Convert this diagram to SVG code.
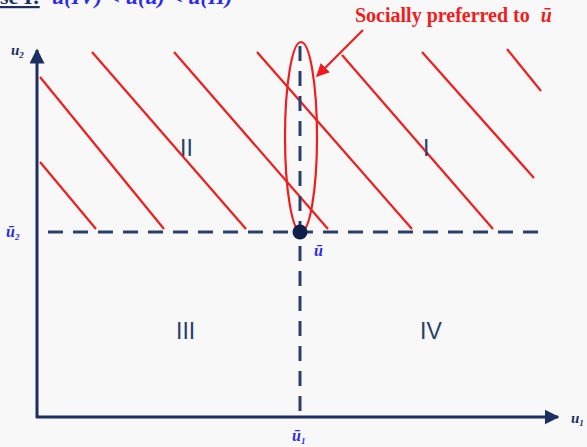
<svg xmlns="http://www.w3.org/2000/svg" width="587" height="447" viewBox="0 0 587 447">
<defs>
<style>
.ax{stroke:#1c2f63;stroke-width:3;fill:none}
.dash{stroke:#2b3f6b;stroke-width:3;fill:none;stroke-dasharray:15 10}
.red{stroke:#f21c1c;stroke-width:2.2;fill:none}
.lab{font-family:"Liberation Sans",Arial,sans-serif;font-size:23px;fill:#2b3f6b}
.ml{font-family:"Liberation Serif","Times New Roman",serif;font-weight:bold;font-style:italic}
</style>
<marker id="ah" viewBox="0 0 10 10" refX="9" refY="5" markerWidth="5" markerHeight="5" orient="auto" markerUnits="strokeWidth"><path d="M0,0 L10,5 L0,10 z" fill="#1c2f63"/></marker>
<marker id="rh" viewBox="0 0 10 10" refX="9" refY="5" markerWidth="6" markerHeight="6" orient="auto" markerUnits="strokeWidth"><path d="M0,0 L10,5 L0,10 z" fill="#f21c1c"/></marker>
</defs>
<rect width="587" height="447" fill="#f8f8f8"/>
<g id="title">
<text x="0" y="4" font-family="Liberation Serif,serif" font-weight="bold" font-size="22" fill="#1c2f63" text-decoration="underline">se I:</text>
<text x="52" y="4" class="ml" font-size="22" fill="#2a2af0">u(IV) &lt; u(ū) &lt; u(II)</text>
</g>
<g id="hatch">
<line class="red" x1="40" y1="162" x2="96" y2="229"/>
<line class="red" x1="40" y1="77" x2="164" y2="229"/>
<line class="red" x1="92" y1="52" x2="246" y2="229"/>
<line class="red" x1="174" y1="52" x2="328" y2="229"/>
<line class="red" x1="257" y1="52" x2="412" y2="229"/>
<line class="red" x1="342" y1="55" x2="493" y2="229"/>
<line class="red" x1="422" y1="52" x2="534" y2="178"/>
<line class="red" x1="507" y1="49" x2="541" y2="91"/>
</g>
<g id="connectors">
<line class="dash" x1="48" y1="232" x2="546" y2="232"/>
<line class="dash" x1="300" y1="46" x2="300" y2="415"/>
<line class="ax" x1="37" y1="418" x2="37" y2="50" marker-end="url(#ah)"/>
<line class="ax" x1="36" y1="417" x2="558" y2="417" marker-end="url(#ah)"/>
<line class="red" x1="363" y1="30" x2="317" y2="76" marker-end="url(#rh)"/>
</g>
<g id="ellipse"><ellipse class="red" cx="301" cy="137" rx="16" ry="95"/></g>
<g id="point"><circle cx="300" cy="232" r="7.5" fill="#0f1f4a"/></g>
<g id="regions">
<text class="lab" x="180" y="156">II</text>
<text class="lab" x="423" y="156">I</text>
<text class="lab" x="176" y="339">III</text>
<text class="lab" x="420" y="339">IV</text>
</g>
<g id="labels">
<text x="355" y="22" font-family="Liberation Serif,serif" font-weight="bold" font-size="20" fill="#f21c1c">Socially preferred to <tspan dx="6" font-style="italic">ū</tspan></text>
<text x="11" y="55" class="ml" font-size="15" fill="#1c2f63">u<tspan font-size="9" dy="3">2</tspan></text>
<text x="6" y="237" class="ml" font-size="16" fill="#2a2af0">ū<tspan font-size="9" dy="3">2</tspan></text>
<text x="314" y="256" class="ml" font-size="16" fill="#2a2af0">ū</text>
<text x="292" y="441" class="ml" font-size="16" fill="#2a2af0">ū<tspan font-size="9" dy="3">1</tspan></text>
<text x="571" y="423" class="ml" font-size="15" fill="#1c2f63">u<tspan font-size="9" dy="3">1</tspan></text>
</g>
</svg>
